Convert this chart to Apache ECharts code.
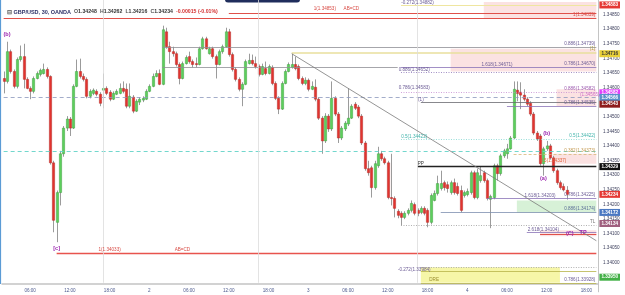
<!DOCTYPE html>
<html><head><meta charset="utf-8">
<script src="https://cdn.jsdelivr.net/npm/echarts@6/dist/echarts.min.js"></script>
<style>html,body{margin:0;padding:0;background:#fff}#c{width:625px;height:295px}</style>
</head><body><div id="c"></div>
<script>
const N_BARS = 180;
const xTickIndex = [8,20,32,44,56,68,80,92,104,116,128,140,152,164,176];
const xTickText = ['06:00','12:00','18:00','2','06:00','12:00','18:00','3','06:00','12:00','18:00','4','06:00','12:00','18:00'];
const daySeparators = [30, 77, 125];

const open = [1.34631,1.34621,1.34723,1.34655,1.34604,1.34696,1.34706,1.34628,1.34597,1.34587,
1.34631,1.34645,1.34648,1.34662,1.34638,1.34342,1.34138,1.34240,1.34373,1.34461,
1.34492,1.34461,1.34604,1.34655,1.34638,1.34628,1.34570,1.34580,1.34587,1.34577,
1.34591,1.34597,1.34584,1.34560,1.34577,1.34580,1.34597,1.34594,1.34536,1.34567,
1.34519,1.34550,1.34557,1.34560,1.34587,1.34604,1.34638,1.34648,1.34611,1.34791,
1.34740,1.34723,1.34716,1.34679,1.34631,1.34682,1.34706,1.34689,1.34682,1.34679,
1.34733,1.34767,1.34716,1.34733,1.34706,1.34679,1.34723,1.34740,1.34791,1.34713,
1.34662,1.34628,1.34594,1.34611,1.34682,1.34693,1.34682,1.34672,1.34645,1.34665,
1.34648,1.34669,1.34614,1.34563,1.34526,1.34614,1.34655,1.34669,1.34679,1.34672,
1.34631,1.34614,1.34625,1.34594,1.34601,1.34560,1.34495,1.34417,1.34502,1.34458,
1.34563,1.34509,1.34427,1.34458,1.34475,1.34495,1.34543,1.34533,1.34502,1.34410,
1.34322,1.34325,1.34257,1.34332,1.34373,1.34356,1.34342,1.34223,1.34220,1.34176,
1.34169,1.34155,1.34169,1.34179,1.34199,1.34179,1.34172,1.34186,1.34179,1.34138,
1.34213,1.34237,1.34254,1.34274,1.34267,1.34240,1.34274,1.34261,1.34247,1.34230,
1.34233,1.34240,1.34308,1.34223,1.34281,1.34308,1.34281,1.34217,1.34223,1.34332,
1.34305,1.34366,1.34373,1.34390,1.34427,1.34591,1.34584,1.34574,1.34560,1.34546,
1.34509,1.34444,1.34434,1.34339,1.34390,1.34400,1.34359,1.34315,1.34274,1.34261,
1.34248];
const close = [1.34621,1.34723,1.34655,1.34604,1.34696,1.34706,1.34628,1.34597,1.34587,1.34631,
1.34648,1.34659,1.34662,1.34638,1.34342,1.34145,1.34240,1.34373,1.34461,1.34492,
1.34461,1.34604,1.34655,1.34638,1.34628,1.34570,1.34587,1.34591,1.34577,1.34546,
1.34597,1.34580,1.34560,1.34580,1.34587,1.34597,1.34587,1.34536,1.34570,1.34519,
1.34553,1.34560,1.34563,1.34587,1.34604,1.34638,1.34648,1.34611,1.34798,1.34740,
1.34723,1.34716,1.34679,1.34631,1.34682,1.34703,1.34689,1.34679,1.34679,1.34733,
1.34767,1.34733,1.34733,1.34706,1.34679,1.34723,1.34740,1.34791,1.34713,1.34662,
1.34628,1.34594,1.34611,1.34689,1.34693,1.34682,1.34672,1.34645,1.34672,1.34648,
1.34672,1.34614,1.34563,1.34526,1.34614,1.34655,1.34679,1.34679,1.34665,1.34631,
1.34614,1.34625,1.34594,1.34604,1.34560,1.34495,1.34417,1.34502,1.34458,1.34563,
1.34509,1.34427,1.34461,1.34478,1.34495,1.34536,1.34529,1.34502,1.34410,1.34322,
1.34308,1.34257,1.34339,1.34373,1.34356,1.34342,1.34223,1.34220,1.34186,1.34162,
1.34155,1.34169,1.34179,1.34203,1.34169,1.34169,1.34186,1.34169,1.34138,1.34230,
1.34237,1.34271,1.34271,1.34257,1.34254,1.34274,1.34240,1.34237,1.34179,1.34240,
1.34244,1.34308,1.34223,1.34308,1.34298,1.34281,1.34220,1.34227,1.34332,1.34305,
1.34366,1.34383,1.34390,1.34427,1.34594,1.34580,1.34574,1.34560,1.34543,1.34509,
1.34444,1.34424,1.34339,1.34390,1.34400,1.34359,1.34315,1.34274,1.34257,1.34249,
1.34234];
const low = [1.34580,1.34614,1.34648,1.34597,1.34597,1.34689,1.34597,1.34594,1.34560,1.34580,
1.34628,1.34638,1.34645,1.34631,1.34336,1.34104,1.34070,1.34196,1.34363,1.34451,
1.34434,1.34458,1.34601,1.34631,1.34621,1.34563,1.34563,1.34574,1.34570,1.34536,
1.34529,1.34574,1.34553,1.34557,1.34574,1.34577,1.34580,1.34529,1.34529,1.34512,
1.34516,1.34540,1.34550,1.34557,1.34584,1.34601,1.34635,1.34608,1.34608,1.34733,
1.34682,1.34706,1.34672,1.34611,1.34628,1.34679,1.34682,1.34669,1.34669,1.34676,
1.34730,1.34730,1.34713,1.34699,1.34631,1.34676,1.34716,1.34737,1.34706,1.34655,
1.34621,1.34587,1.34536,1.34608,1.34679,1.34676,1.34665,1.34638,1.34642,1.34642,
1.34645,1.34608,1.34557,1.34509,1.34523,1.34611,1.34652,1.34665,1.34659,1.34625,
1.34608,1.34608,1.34587,1.34591,1.34553,1.34489,1.34373,1.34410,1.34448,1.34451,
1.34502,1.34410,1.34420,1.34451,1.34468,1.34492,1.34523,1.34495,1.34403,1.34315,
1.34298,1.34223,1.34250,1.34325,1.34349,1.34336,1.34217,1.34196,1.34155,1.34152,
1.34128,1.34149,1.34162,1.34172,1.34162,1.34159,1.34166,1.34162,1.34121,1.34131,
1.34210,1.34230,1.34247,1.34247,1.34240,1.34233,1.34233,1.34230,1.34172,1.34223,
1.34227,1.34233,1.34217,1.34217,1.34274,1.34274,1.34213,1.34118,1.34217,1.34281,
1.34298,1.34359,1.34356,1.34387,1.34424,1.34553,1.34526,1.34553,1.34536,1.34502,
1.34437,1.34417,1.34332,1.34298,1.34383,1.34353,1.34308,1.34267,1.34250,1.34244,
1.34216];
const high = [1.34655,1.34757,1.34730,1.34662,1.34703,1.34744,1.34750,1.34635,1.34604,1.34638,
1.34655,1.34665,1.34682,1.34669,1.34642,1.34349,1.34247,1.34383,1.34468,1.34502,
1.34499,1.34611,1.34696,1.34699,1.34648,1.34635,1.34594,1.34597,1.34594,1.34584,
1.34648,1.34604,1.34591,1.34587,1.34594,1.34614,1.34621,1.34614,1.34614,1.34574,
1.34560,1.34567,1.34570,1.34594,1.34611,1.34648,1.34659,1.34662,1.34812,1.34805,
1.34757,1.34740,1.34723,1.34686,1.34689,1.34710,1.34723,1.34696,1.34703,1.34740,
1.34774,1.34774,1.34740,1.34740,1.34713,1.34730,1.34747,1.34805,1.34801,1.34720,
1.34669,1.34635,1.34618,1.34696,1.34716,1.34713,1.34706,1.34679,1.34682,1.34689,
1.34679,1.34676,1.34621,1.34570,1.34621,1.34662,1.34686,1.34716,1.34706,1.34679,
1.34638,1.34635,1.34631,1.34621,1.34628,1.34567,1.34502,1.34512,1.34509,1.34621,
1.34570,1.34516,1.34468,1.34485,1.34597,1.34543,1.34550,1.34540,1.34509,1.34417,
1.34349,1.34332,1.34349,1.34397,1.34383,1.34363,1.34349,1.34373,1.34227,1.34183,
1.34176,1.34176,1.34186,1.34213,1.34206,1.34186,1.34193,1.34193,1.34186,1.34237,
1.34247,1.34298,1.34315,1.34281,1.34278,1.34281,1.34288,1.34274,1.34264,1.34247,
1.34254,1.34315,1.34315,1.34322,1.34329,1.34315,1.34288,1.34233,1.34339,1.34339,
1.34373,1.34390,1.34407,1.34434,1.34621,1.34621,1.34618,1.34594,1.34567,1.34553,
1.34516,1.34451,1.34441,1.34397,1.34417,1.34407,1.34366,1.34322,1.34281,1.34271,
1.34262];

// horizontal levels: [price, fromBar, toBar, endLabel, kind]
const levels = [
  [1.34882, 120, 179, '', 'paleYellow'],
  [1.34855, 68, 179, '', 'red'],
  [1.34839, 0, 179, '1(1.34839)', 'red'],
  [1.34739, 48, 179, '0.886(1.34739)', 'gray'],
  [1.34720, 87, 179, '(1)', 'yellow'],
  [1.34669, 48, 119, '', 'gray'],
  [1.34668, 120, 179, '0.786(1.34670)', 'purple'],
  [1.34652, 120, 179, '', 'dotPurple'],
  [1.34585, 120, 179, '0.886(1.34582)', 'dotPink'],
  [1.34566, 0, 179, '', 'dashBlue'],
  [1.34550, 126, 179, '', 'dark'],
  [1.34535, 152, 179, '0.786(1.34535)', 'purple'],
  [1.34422, 120, 179, '0.5(1.34422)', 'tealDot'],
  [1.34383, 0, 179, '', 'tealDash'],
  [1.34373, 154, 179, '0.382(1.34373)', 'tanDash'],
  [1.34329, 125, 179, '', 'black'],
  [1.34220, 146, 179, '0.786(1.34225)', 'purple'],
  [1.34172, 132, 179, '0.886(1.34174)', 'slate'],
  [1.34128, 120, 179, 'TL', 'grayDot'],
  [1.34104, 158, 179, '', 'purple'],
  [1.34097, 162, 179, '', 'red'],
  [1.34033, 16, 179, '', 'redThick'],
  [1.33984, 126, 179, '', 'grayDot'],
  [1.33970, 126, 179, '', 'olive'],
  [1.33931, 126, 179, '0.786(1.33928)', 'olive']
];
// zones: [fromBar, toBar, priceTop, priceBottom, kind]
const zones = [
  [145, 179, 1.34893, 1.34835, 'pink'],
  [135, 179, 1.34733, 1.34655, 'pink'],
  [167, 179, 1.34594, 1.34536, 'pink'],
  [166, 179, 1.34373, 1.34339, 'pink'],
  [155, 179, 1.34213, 1.34172, 'green'],
  [162, 179, 1.34111, 1.34090, 'pink'],
  [126, 168, 1.33984, 1.33931, 'yellow']
];
// text notes: [bar, price, text, kind]
const notes = [
  [97, 1.34869, '1(1.34853)', 'red'],
  [105, 1.34869, 'AB=CD', 'red'],
  [32, 1.34043, '1(1.34033)', 'red'],
  [54, 1.34043, 'AB=CD', 'red'],
  [125, 1.34890, '-0.272(1.34882)', 'fib'],
  [149, 1.34679, '1.618(1.34671)', 'fib'],
  [124, 1.34662, '0.886(1.34652)', 'fib'],
  [124, 1.34601, '0.786(1.34583)', 'fib'],
  [126, 1.34557, '(1)', 'fib'],
  [177, 1.34574, '(1.34565)', 'pink'],
  [124, 1.34431, '0.5(1.34422)', 'teal'],
  [126, 1.34339, 'PP', 'dark'],
  [166, 1.34349, '0.5(1.34337)', 'orange'],
  [162, 1.34230, '1.618(1.34203)', 'fib'],
  [163, 1.34111, '2.618(1.34104)', 'fib'],
  [175, 1.34104, 'TP', 'wave'],
  [124, 1.33975, '-0.272(1.33984)', 'fib'],
  [130, 1.33940, 'DRE', 'olive'],
  [1, 1.34781, '(b)', 'wave'],
  [16, 1.34050, '[c]', 'wave'],
  [164, 1.34441, '(b)', 'wave'],
  [163, 1.34288, '(a)', 'wave'],
  [171, 1.34101, '(C)', 'wave']
];
// price tags on the axis: [price, text, kind]
const tags = [
  [1.34883, '1.34883', 'red'],
  [1.34716, '1.34716', 'yellow'],
  [1.34582, '1.34582', 'magenta'],
  [1.34566, '1.34566', 'steel'],
  [1.34543, '1.34543', 'maroon'],
  [1.34329, '1.34329', 'black'],
  [1.34234, '1.34234', 'red'],
  [1.34172, '1.34172', 'blue'],
  [1.34134, '1.34134', 'mauve'],
  [1.33950, '1.33950', 'green']
];
const trendLine = [[87, 1.34716], [179, 1.34075]];
const Y_MIN = 1.3390, Y_MAX = 1.3490, Y_STEP = 0.0005;

const lineStyles = {
  paleYellow:{color:'#efe6a0', width:1, type:'solid'},
  red:{color:'#e0504a', width:1, type:'solid'},
  redThick:{color:'#e8544e', width:1.3, type:'solid'},
  gray:{color:'#8f8f96', width:0.8, type:'solid'},
  yellow:{color:'#e8df9c', width:1.6, type:'solid'},
  purple:{color:'#8a74b8', width:0.8, type:'solid'},
  dotPurple:{color:'#8a74b8', width:0.8, type:[1,1.5]},
  dotPink:{color:'#c58ad0', width:0.8, type:[1,1.5]},
  dashBlue:{color:'#8c98bc', width:0.8, type:[4,3]},
  dark:{color:'#6a6a70', width:0.8, type:'solid'},
  tealDot:{color:'#7fd6cf', width:0.8, type:[1,1.5]},
  tealDash:{color:'#62d3c7', width:0.9, type:[4,3]},
  tanDash:{color:'#d9b77a', width:0.8, type:[3,2]},
  black:{color:'#222', width:1.4, type:'solid'},
  slate:{color:'#7d8fb0', width:0.8, type:'solid'},
  grayDot:{color:'#9a9a9a', width:0.8, type:[1,1.5]},
  olive:{color:'#b7b44a', width:0.8, type:'solid'}
};
const labelColors = {red:'#d84a44', gray:'#6b5b95', purple:'#6b5b95', dotPurple:'#6b5b95', dotPink:'#9c5bb0',
  yellow:'#b0a040', tealDot:'#3fb3aa', tanDash:'#c49a52', slate:'#5a6e96', grayDot:'#777', olive:'#6b5b95'};
const noteColors = {red:'#d84a44', fib:'#6b5b95', pink:'#d070c8', teal:'#3fb3aa', dark:'#333', orange:'#e0603a', wave:'#9c27b0', olive:'#9a8f30'};
const zoneColors = {pink:'rgba(240,150,150,0.28)', green:'rgba(140,215,140,0.35)', yellow:'rgba(240,240,110,0.6)'};
const tagColors = {red:'#e53935', yellow:'#e8cf3a', magenta:'#e040fb', steel:'#5b8fc9', maroon:'#8e1c1c',
  black:'#111', blue:'#4a78c2', mauve:'#a0607f', green:'#43b047'};

const cats = Array.from({length:N_BARS}, (_, i) => String(i));
const candleData = open.map((o, i) => [i, o, close[i], low[i], high[i]]);
const last = open.length - 1;
const chg = close[last] - close[last-1];

const markLineData = [];
levels.forEach(([p, a, b, txt, kind]) => {
  const ls = lineStyles[kind];
  markLineData.push([
    {coord:[a, p], lineStyle:{color:ls.color, width:ls.width, type:ls.type},
     label:{show:!!txt, formatter:txt, position:'insideEndTop', distance:1, fontSize:4.6,
            color:labelColors[kind] || '#6b5b95', fontFamily:'Liberation Sans'}},
    {coord:[b, p]}
  ]);
});
daySeparators.forEach(i => {
  markLineData.push([{coord:[i, 1.33931], lineStyle:{color:'#dcdcdc', width:0.8, type:'solid'}, label:{show:false}},
                     {coord:[i, Y_MAX]}]);
});
markLineData.push([{coord:trendLine[0], lineStyle:{color:'#7a7a7a', width:0.8, type:'solid'}, label:{show:false}},
                   {coord:trendLine[1]}]);

const tagPointData = tags.map(([p, txt, kind]) => ({
  coord:[179, p], symbol:'rect', symbolSize:0.1, itemStyle:{color:'rgba(0,0,0,0)'},
  label:{show:true, position:'right', distance:3, formatter:txt,
    backgroundColor:tagColors[kind], color: kind==='yellow' ? '#333' : '#fff', fontSize:4.6, fontWeight:'bold',
    padding:[1,2,1,2], fontFamily:'Liberation Sans'}
}));

const markAreaData = zones.map(([a, b, pt, pb, kind]) => [
  {coord:[a, pt], itemStyle:{color:zoneColors[kind]}},
  {coord:[b, pb]}
]);

const markPointData = notes.map(([i, p, txt, kind]) => ({
  coord:[i, p], symbol:'rect', symbolSize:0.1, itemStyle:{color:'rgba(0,0,0,0)'},
  label:{show:true, position:'inside', formatter:txt, color:noteColors[kind],
    fontSize: kind==='wave' ? 5.5 : 4.6, fontWeight: kind==='wave' ? 'bold' : 'normal', fontFamily:'Liberation Sans'}
}));

const chart = echarts.init(document.getElementById('c'), null, {renderer:'canvas'});
chart.setOption({
  animation:false,
  backgroundColor:'#ffffff',
  title:{
    text:'{i|⊟} {s|GBP/USD, 30, OANDA}  {k|O}{v|' + open[last].toFixed(5) + '}  {k|H}{v|' + high[last].toFixed(5) +
         '}  {k|L}{v|' + low[last].toFixed(5) + '}  {k|C}{v|' + close[last].toFixed(5) + '}  {r|' +
         chg.toFixed(5) + ' (' + (chg/close[last-1]*100).toFixed(2) + '%)}',
    left:2, top:4,
    textStyle:{fontSize:5.5, fontFamily:'Liberation Sans', rich:{
      i:{fontSize:5.5, color:'#555'}, s:{fontSize:5.5, color:'#2b2f66'}, k:{fontSize:5.2, color:'#555'},
      v:{fontSize:5.2, color:'#333'}, r:{fontSize:5.2, color:'#d32f2f'}}}
  },
  grid:{left:2, right:27, top:-2, bottom:3.2, containLabel:false},
  xAxis:{
    type:'category', data:cats, boundaryGap:true, offset:-8,
    axisLine:{show:true, lineStyle:{color:'#c4c4c4', width:1.5}},
    axisTick:{show:false}, splitLine:{show:false},
    axisLabel:{interval:(idx) => xTickIndex.includes(idx),
      formatter:(v, idx) => { const k = xTickIndex.indexOf(Number(v)); return k >= 0 ? xTickText[k] : ''; },
      fontSize:4.6, color:'#4d5a8e', margin:4, fontFamily:'Liberation Sans'}
  },
  yAxis:{
    type:'value', position:'right', min:Y_MIN, max:Y_MAX, interval:Y_STEP, scale:true,
    axisLine:{show:true, lineStyle:{color:'#c4c4c4'}}, axisTick:{show:false}, splitLine:{show:false},
    axisLabel:{fontSize:4.6, color:'#3c3f5c', margin:5, showMinLabel:false, showMaxLabel:false,
      formatter:(v) => v.toFixed(5), fontFamily:'Liberation Sans'}
  },
  graphic:[
    {type:'line', shape:{x1:0.5, y1:0, x2:0.5, y2:284}, style:{stroke:'#5b9bd5', lineWidth:1.2}},
    {type:'rect', shape:{x:225, y:-4, width:75, height:6.5, r:3}, style:{fill:'#1f2d5c'}}
  ],
  series:[
    {type:'line', data:[], z:1, silent:true,
     markArea:{silent:true, data:markAreaData}},
    {type:'custom', name:'GBPUSD', z:3, data:candleData, encode:{x:0, y:[1,2,3,4]},
     renderItem:function(params, api){
       const i = api.value(0), o = api.value(1), c = api.value(2), l = api.value(3), h = api.value(4);
       const po = api.coord([i, o]), pc = api.coord([i, c]), pl = api.coord([i, l]), ph = api.coord([i, h]);
       const w = api.size([1, 0])[0] * 0.68;
       const up = c >= o;
       const top = Math.min(po[1], pc[1]), bot = Math.max(po[1], pc[1]);
       const x = Math.round(po[0]) + 0.5;
       return {type:'group', children:[
         {type:'line', shape:{x1:x, y1:ph[1], x2:x, y2:pl[1]}, style:{stroke:'#9b9b9b', lineWidth:1}},
         {type:'rect', shape:{x:x - w/2, y:top, width:w, height:Math.max(bot - top, 1)},
          style:{fill: up ? '#5ccf5c' : '#e2332e', stroke: up ? '#3e9e3e' : '#b52a26', lineWidth:0.5}}
       ]};
     }},
    {type:'line', data:[], z:5, silent:true,
     markLine:{silent:true, symbol:['none','none'], data:markLineData},
     markPoint:{silent:true, data:markPointData}},
    {type:'line', data:[], z:10, silent:true, clip:false,
     markPoint:{silent:true, data:tagPointData}}
  ]
});
</script>
</body></html>
